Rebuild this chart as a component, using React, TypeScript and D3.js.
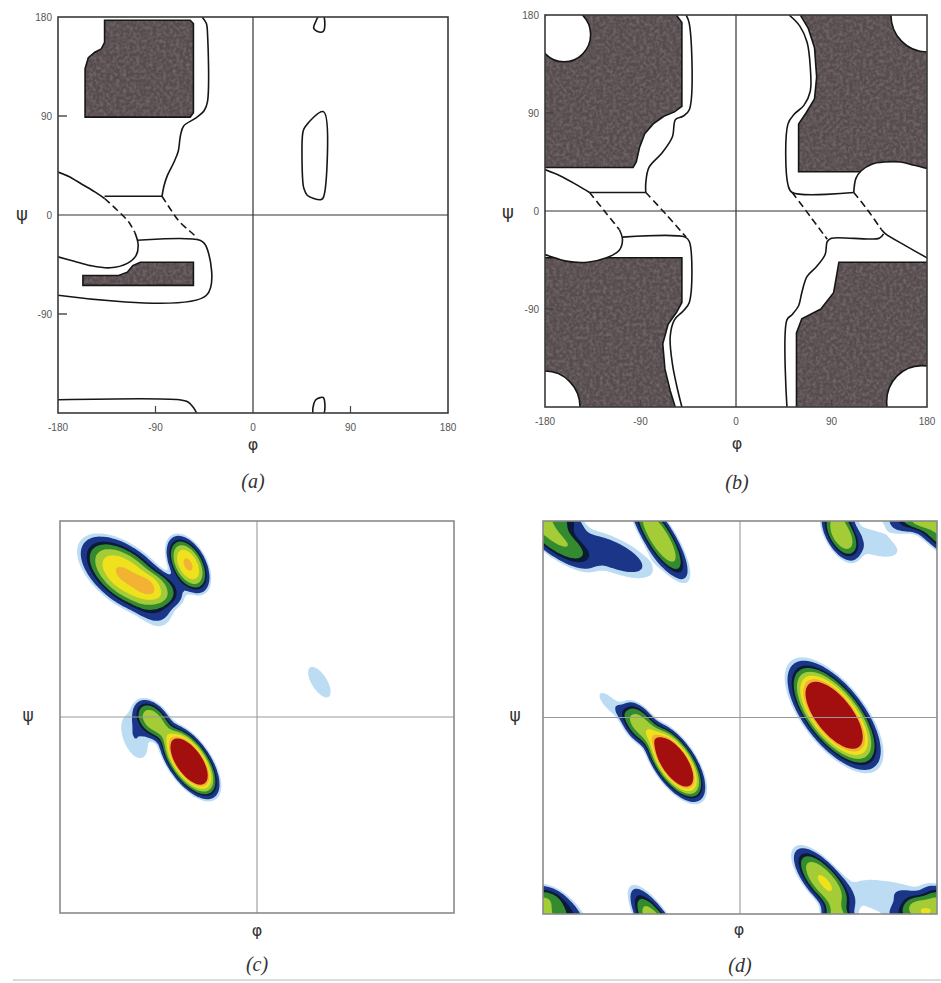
import React, { useEffect, useRef } from "react";
import * as d3 from "d3";

type Pt = [number, number];

const W = 941;
const H = 983;

// tick values shared by the two hard-sphere maps
const phiTicks = [-180, -90, 0, 90, 180];
const psiTicks = [180, 90, 0, -90];
const innerTicks = [-90, 90];

// ---------- (a) outline map, all angles in degrees [phi, psi] ----------
const aBetaCore: Pt[] = [[-155, 89], [-155, 133], [-152, 143], [-146, 148], [-140, 151], [-137, 157], [-137, 177], [-58, 177], [-55, 174], [-55, 93], [-58, 89]];
const aAlphaCore: Pt[] = [[-157, -55], [-124, -55], [-116, -52], [-111, -46], [-104, -43], [-55, -43], [-55, -64], [-157, -64]];
const aBetaOuter: Pt[] = [[-47, 180], [-43, 174], [-42, 165], [-42, 103], [-45, 95], [-53, 88], [-64, 81], [-67, 72], [-69, 58], [-73, 48], [-79, 36], [-82, 27], [-84, 17]];
const aTopBar: Pt[] = [[-137, 17], [-84, 17]];
const aLobeUpper: Pt[] = [[-180, 39], [-170, 35], [-158, 28], [-146, 21], [-137, 15]];
const aLobeDash: Pt[] = [[-137, 15], [-126, 5], [-115, -6], [-109, -16]];
const aLobeLower: Pt[] = [[-109, -16], [-106, -27], [-108, -37], [-116, -44], [-132, -48], [-150, -46], [-165, -42], [-180, -38]];
const aMidDash: Pt[] = [[-84, 17], [-76, 5], [-68, -6], [-58, -15], [-51, -21]];
const aAlphaOuter: Pt[] = [[-107, -23], [-49, -23], [-43, -29], [-43, -73], [-180, -73]];
const aBottomOuter: Pt[] = [[-180, -168], [-68, -168], [-60, -170], [-55, -175], [-52, -180]];
const aIslandTop: Pt[] = [[65, 181], [65, 167], [59, 167], [56, 170], [58, 176], [61, 181]];
const aIslandMid: Pt[] = [[65, 94], [65, 16], [63, 14], [56, 15], [50, 18], [47, 24], [46, 30], [46, 75], [48, 80]];
const aIslandBottom: Pt[] = [[56, -181], [56, -172], [58, -168], [62, -166], [65, -166], [65, -181]];

// ---------- (b) outline map ----------
const bTopLeftCore: Pt[] = [[-181, 181], [-57, 181], [-51, 173], [-51, 96], [-58, 91], [-68, 87], [-78, 80], [-86, 71], [-91, 58], [-94, 45], [-97, 40], [-181, 40]];
const bBottomLeftCore: Pt[] = [[-181, -43], [-51, -43], [-51, -84], [-56, -93], [-64, -104], [-69, -122], [-67, -145], [-62, -165], [-57, -181], [-181, -181]];
const bTopRightCore: Pt[] = [[60, 181], [68, 168], [74, 150], [76, 123], [74, 103], [66, 90], [59, 80], [59, 36], [181, 36], [181, 181]];
const bBottomRightCore: Pt[] = [[97, -47], [92, -75], [80, -90], [62, -99], [57, -112], [57, -181], [181, -181], [181, -47]];
const bCornerHoles = [[-162, 162, 25], [180, 180, 34], [-180, -180, 33], [175, -175, 33]];
const bTopLeftOuter: Pt[] = [[-47, 180], [-44, 172], [-44, 93], [-50, 87], [-57, 84], [-60, 68], [-70, 53], [-82, 40], [-85, 26], [-85, 17]];
const bLeftBar: Pt[] = [[-138, 17], [-85, 17]];
const bLeftLobeUpper: Pt[] = [[-180, 38], [-165, 32], [-150, 24], [-138, 17]];
const bLeftLobeDash: Pt[] = [[-138, 17], [-124, 0], [-110, -17]];
const bLeftLobeLower: Pt[] = [[-110, -17], [-107, -26], [-110, -36], [-122, -43], [-140, -47], [-160, -46], [-180, -40]];
const bLeftMidDash: Pt[] = [[-85, 17], [-66, -3], [-47, -24]];
const bBottomLeftOuter: Pt[] = [[-107, -24], [-48, -24], [-44, -28], [-44, -84], [-50, -92], [-58, -100], [-62, -115], [-60, -140], [-56, -160], [-51, -180]];
const bTopRightOuter: Pt[] = [[50, 180], [60, 170], [67, 155], [70, 132], [70, 110], [64, 97], [55, 89], [49, 80], [49, 24], [53, 17], [111, 17]];
const bRightLobeUpper: Pt[] = [[111, 17], [113, 30], [118, 37], [128, 43], [140, 45], [155, 45], [168, 42], [180, 39]];
const bRightLobeDash: Pt[] = [[111, 17], [124, 1], [137, -17]];
const bRightLobeLower: Pt[] = [[137, -17], [141, -21], [160, -32], [180, -43]];
const bRightMidDash: Pt[] = [[53, 17], [70, -5], [86, -26]];
const bBottomRightOuter: Pt[] = [[139, -21], [135, -25], [90, -25], [86, -28], [84, -40], [76, -51], [67, -60], [62, -75], [59, -87], [53, -95], [48, -100], [48, -180]];

// ---------- (c), (d) observed density: peaks read off the picture ----------
// [phi, psi, spread along, spread across, tilt (deg), height]
const cPeaks = [
  [-120, 130, 27, 14, -38, 0.45],
  [-63, 140, 16, 9, -62, 0.45],
  [-88, 118, 14, 9, -25, 0.16],
  [-95, 100, 16, 10, -60, 0.05],
  [-62, -41, 20, 9.5, -55, 1.0],
  [-95, -3, 13, 8, -50, 0.3],
  [-112, -18, 18, 9, -70, 0.06],
  [57, 32, 16, 7, -58, 0.05],
];
const dPeaks = [
  [-60, -41, 21, 9.5, -56, 1.0],
  [-92, -6, 14, 8, -53, 0.28],
  [-118, 12, 14, 5, -45, 0.05],
  [86, 2, 30, 13.5, -52, 1.0],
  [-74, 165, 26, 8, -58, 0.34],
  [-172, 166, 28, 9, -38, 0.24],
  [-118, 150, 30, 11, -25, 0.09],
  [-168, -172, 18, 8, -35, 0.16],
  [76, -150, 22, 9, -50, 0.34],
  [92, 168, 16, 8, -62, 0.3],
  [165, -175, 18, 8, 20, 0.14],
  [135, -165, 35, 14, -15, 0.05],
  [120, 160, 25, 10, -20, 0.05],
];
const densityLevels = [0.035, 0.06, 0.12, 0.16, 0.24, 0.34, 0.44, 0.52];
const densityColors = ["#bcdcf3", "#1b3589", "#0b1a36", "#348a2e", "#a3cc36", "#efe21d", "#f2b233", "#a30e0e"];

const boxA = { left: 58, right: 448, top: 17, bottom: 413 };
const boxB = { left: 545, right: 927, top: 15, bottom: 407 };
const boxC = { left: 60, right: 454, top: 521, bottom: 913 };
const boxD = { left: 543, right: 937, top: 521, bottom: 914 };

const GRAY = "#564c4e";
const INK = "#161616";

function scalesFor(box) {
  const x = d3.scaleLinear().domain([-180, 180]).range([box.left, box.right]);
  const y = d3.scaleLinear().domain([180, -180]).range([box.top, box.bottom]);
  return { x, y };
}

function clipFor(svg, id, box) {
  svg.append("clipPath").attr("id", id).append("rect")
    .attr("x", box.left).attr("y", box.top)
    .attr("width", box.right - box.left).attr("height", box.bottom - box.top);
}

function drawMap(svg, id, box, cores, fills, lines, dashes, islands, holes) {
  const { x, y } = scalesFor(box);
  clipFor(svg, id, box);
  const g = svg.append("g").attr("clip-path", `url(#${id})`);
  const lin = d3.line<Pt>().x(d => x(d[0])).y(d => y(d[1])).curve(d3.curveLinearClosed);
  const smooth = d3.line<Pt>().x(d => x(d[0])).y(d => y(d[1])).curve(d3.curveCatmullRom.alpha(0.5));
  const smoothClosed = d3.line<Pt>().x(d => x(d[0])).y(d => y(d[1])).curve(d3.curveCatmullRomClosed.alpha(0.5));

  g.selectAll(".core").data(cores).join("path").attr("class", "core")
    .attr("d", d => lin(d)).attr("fill", GRAY).attr("filter", "url(#grain)");
  g.selectAll(".coreEdge").data(cores).join("path").attr("class", "coreEdge")
    .attr("d", d => lin(d)).attr("fill", "none").attr("stroke", INK).attr("stroke-width", 1.6);

  const kx = (box.right - box.left) / 360;
  const ky = (box.bottom - box.top) / 360;
  g.selectAll(".hole").data(holes).join("ellipse").attr("class", "hole")
    .attr("cx", d => x(d[0])).attr("cy", d => y(d[1]))
    .attr("rx", d => d[2] * kx).attr("ry", d => d[2] * ky)
    .attr("fill", "#fff").attr("stroke", INK).attr("stroke-width", 1.6);

  g.selectAll(".lobe").data(fills).join("path").attr("class", "lobe")
    .attr("d", d => smoothClosed(d)).attr("fill", "#fff").attr("stroke", "none");

  // zero lines
  g.append("line").attr("x1", x(0)).attr("x2", x(0)).attr("y1", box.top).attr("y2", box.bottom)
    .attr("stroke", "#333").attr("stroke-width", 1.2);
  g.append("line").attr("x1", box.left).attr("x2", box.right).attr("y1", y(0)).attr("y2", y(0))
    .attr("stroke", "#333").attr("stroke-width", 1.2);

  g.selectAll(".edge").data(lines).join("path").attr("class", "edge")
    .attr("d", d => smooth(d)).attr("fill", "none").attr("stroke", INK).attr("stroke-width", 1.6);
  g.selectAll(".dash").data(dashes).join("path").attr("class", "dash")
    .attr("d", d => smooth(d)).attr("fill", "none").attr("stroke", INK)
    .attr("stroke-width", 1.6).attr("stroke-dasharray", "7,4");
  g.selectAll(".island").data(islands).join("path").attr("class", "island")
    .attr("d", d => smoothClosed(d)).attr("fill", "#fff").attr("stroke", INK).attr("stroke-width", 1.6);

  svg.append("rect").attr("x", box.left).attr("y", box.top)
    .attr("width", box.right - box.left).attr("height", box.bottom - box.top)
    .attr("fill", "none").attr("stroke", "#3a3a3a").attr("stroke-width", 1.6);

  // short inner ticks
  svg.selectAll(null).data(innerTicks).join("line")
    .attr("x1", d => x(d)).attr("x2", d => x(d)).attr("y1", box.bottom).attr("y2", box.bottom - 7)
    .attr("stroke", "#444").attr("stroke-width", 1.2);
  svg.selectAll(null).data(innerTicks).join("line")
    .attr("x1", box.left).attr("x2", box.left + 9).attr("y1", d => y(d)).attr("y2", d => y(d))
    .attr("stroke", "#444").attr("stroke-width", 1.4);

  svg.selectAll(null).data(phiTicks).join("text")
    .attr("x", d => x(d)).attr("y", box.bottom + 18)
    .attr("text-anchor", "middle").attr("font-family", "Liberation Sans, Arial, sans-serif")
    .attr("font-size", 10).attr("fill", "#555").text(d => String(d));
  svg.selectAll(null).data(psiTicks).join("text")
    .attr("x", box.left - 6).attr("y", d => y(d) + 3.5)
    .attr("text-anchor", "end").attr("font-family", "Liberation Sans, Arial, sans-serif")
    .attr("font-size", 10).attr("fill", "#555").text(d => String(d));
}

function densityGrid(peaks, periodic) {
  const step = 2;
  const n = 181;
  const prepared = peaks.map(([p0, s0, su, sv, ang, amp]) => {
    const t = (ang * Math.PI) / 180;
    return { p0, s0, su, sv, c: Math.cos(t), s: Math.sin(t), amp };
  });
  const values = new Array(n * n);
  for (let j = 0; j < n; j++) {
    const psi = 180 - j * step;
    for (let i = 0; i < n; i++) {
      const phi = -180 + i * step;
      let v = 0;
      for (const k of prepared) {
        let dp = phi - k.p0;
        let ds = psi - k.s0;
        if (periodic) {
          dp = ((dp + 540) % 360) - 180;
          ds = ((ds + 540) % 360) - 180;
        }
        const u = dp * k.c + ds * k.s;
        const w = -dp * k.s + ds * k.c;
        const q = (u * u) / (k.su * k.su) + (w * w) / (k.sv * k.sv);
        v += k.amp * Math.exp(-Math.pow(q / 2, 1.5));
      }
      values[j * n + i] = v;
    }
  }
  return { values, n, step };
}

function drawDensity(svg, id, box, peaks, periodic) {
  const { x, y } = scalesFor(box);
  clipFor(svg, id, box);
  const g = svg.append("g").attr("clip-path", `url(#${id})`);
  const { values, n, step } = densityGrid(peaks, periodic);
  const bands = d3.contours().size([n, n]).thresholds(densityLevels)(values);
  const proj = d3.geoTransform({
    point: function (px, py) {
      this.stream.point(x(-180 + (px - 0.5) * step), y(180 - (py - 0.5) * step));
    },
  });
  const path = d3.geoPath(proj);
  g.selectAll("path").data(bands).join("path")
    .attr("d", d => path(d))
    .attr("fill", d => densityColors[densityLevels.indexOf(d.value)]);

  svg.append("line").attr("x1", x(0)).attr("x2", x(0)).attr("y1", box.top).attr("y2", box.bottom)
    .attr("stroke", "#9a9a9a").attr("stroke-width", 1.1);
  svg.append("line").attr("x1", box.left).attr("x2", box.right).attr("y1", y(0)).attr("y2", y(0))
    .attr("stroke", "#9a9a9a").attr("stroke-width", 1.1);
  svg.append("rect").attr("x", box.left).attr("y", box.top)
    .attr("width", box.right - box.left).attr("height", box.bottom - box.top)
    .attr("fill", "none").attr("stroke", "#8a8a8a").attr("stroke-width", 1.6);
}

function label(svg, x, y, txt, size, italic, family) {
  svg.append("text").attr("x", x).attr("y", y).attr("text-anchor", "middle")
    .attr("font-family", family).attr("font-size", size)
    .attr("font-style", italic ? "italic" : "normal").attr("fill", "#333").text(txt);
}

export default function App() {
  const ref = useRef<SVGSVGElement>(null);

  useEffect(() => {
    const svg = d3.select(ref.current);
    svg.selectAll("*").remove();

    // soft mottled print texture for the shaded regions
    const f = svg.append("defs").append("filter").attr("id", "grain")
      .attr("x", "-0.02").attr("y", "-0.02").attr("width", "1.04").attr("height", "1.04");
    f.append("feTurbulence").attr("type", "fractalNoise").attr("baseFrequency", 0.3)
      .attr("numOctaves", 2).attr("seed", 4).attr("result", "noise");
    f.append("feColorMatrix").attr("in", "noise").attr("type", "matrix")
      .attr("values", "0 0 0 0 0.44  0 0 0 0 0.4  0 0 0 0 0.41  0.45 0 0 0 -0.17").attr("result", "spots");
    f.append("feComposite").attr("in", "spots").attr("in2", "SourceGraphic").attr("operator", "in").attr("result", "grain");
    const m = f.append("feMerge");
    m.append("feMergeNode").attr("in", "SourceGraphic");
    m.append("feMergeNode").attr("in", "grain");

    drawMap(svg, "clip-a", boxA,
      [aBetaCore, aAlphaCore],
      [[...aLobeUpper, ...aLobeDash.slice(1), ...aLobeLower.slice(1), [-181, -38], [-181, 39]]],
      [aBetaOuter, aTopBar, aLobeUpper, aLobeLower, aAlphaOuter, aBottomOuter],
      [aLobeDash, aMidDash],
      [aIslandTop, aIslandMid, aIslandBottom],
      []);

    drawMap(svg, "clip-b", boxB,
      [bTopLeftCore, bBottomLeftCore, bTopRightCore, bBottomRightCore],
      [
        [...bLeftLobeUpper, ...bLeftLobeDash.slice(1), ...bLeftLobeLower.slice(1), [-181, -40], [-181, 38]],
        [...bRightLobeUpper.slice().reverse(), ...bRightLobeDash.slice(1), ...bRightLobeLower.slice(1), [181, -43], [181, 39]],
      ],
      [bTopLeftOuter, bLeftBar, bLeftLobeUpper, bLeftLobeLower, bBottomLeftOuter, bTopRightOuter, bRightLobeUpper, bRightLobeLower, bBottomRightOuter],
      [bLeftLobeDash, bLeftMidDash, bRightLobeDash, bRightMidDash],
      [],
      bCornerHoles);

    drawDensity(svg, "clip-c", boxC, cPeaks, false);
    drawDensity(svg, "clip-d", boxD, dPeaks, true);

    const greek = "DejaVu Sans, sans-serif";
    const serif = "Liberation Serif, Times New Roman, serif";
    label(svg, 253, 450, "φ", 16, false, greek);
    label(svg, 737, 449, "φ", 16, false, greek);
    label(svg, 257, 936, "φ", 16, false, greek);
    label(svg, 739, 935, "φ", 16, false, greek);
    label(svg, 22, 220, "ψ", 18, false, greek);
    label(svg, 508, 218, "ψ", 18, false, greek);
    label(svg, 28, 721, "ψ", 17, false, greek);
    label(svg, 515, 721, "ψ", 17, false, greek);
    label(svg, 253, 488, "(a)", 20, true, serif);
    label(svg, 737, 489, "(b)", 20, true, serif);
    label(svg, 257, 971, "(c)", 20, true, serif);
    label(svg, 740, 972, "(d)", 20, true, serif);

    svg.append("line").attr("x1", 13).attr("x2", W).attr("y1", 980).attr("y2", 980)
      .attr("stroke", "#cfcfcf").attr("stroke-width", 1.5);
  }, []);

  return (
    <svg ref={ref} width={W} height={H}
      style={{ position: "absolute", left: 0, top: 0, background: "#fff" }} />
  );
}
